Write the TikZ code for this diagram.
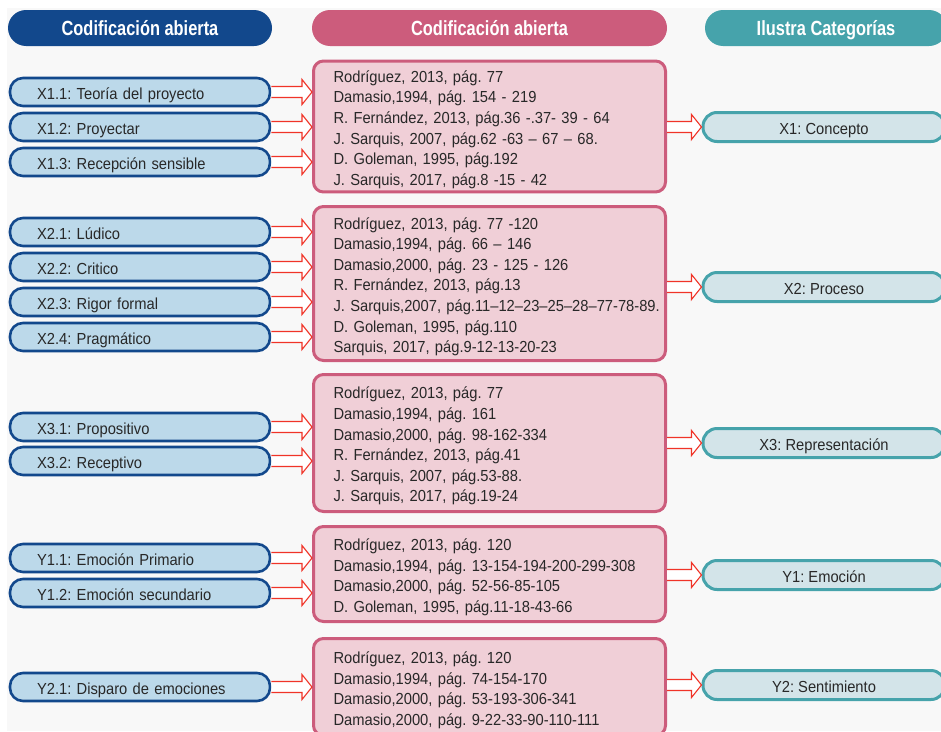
\documentclass[tikz,border=0pt]{standalone}
\usepackage{fontspec}
\setmainfont{Liberation Sans}[FakeStretch=0.92]
\newfontfamily\headfont{Liberation Sans}[FakeStretch=0.8]
\usepackage{xcolor}
\definecolor{ColBg}{RGB}{248,248,248}
\definecolor{ColBlue}{RGB}{18,72,140}
\definecolor{ColBlueFill}{RGB}{188,217,234}
\definecolor{ColPink}{RGB}{204,92,124}
\definecolor{ColPinkFill}{RGB}{240,207,215}
\definecolor{ColTeal}{RGB}{70,163,171}
\definecolor{ColTealFill}{RGB}{211,228,233}
\definecolor{ColRed}{RGB}{240,52,40}
\definecolor{ColText}{RGB}{40,40,40}
\usepackage{tikz}
\usetikzlibrary{calc}
\tikzstyle{Head}=[rounded corners=18pt,minimum height=36pt,inner sep=0pt,
text height=14pt,text depth=0pt,text=white,
font=\headfont\fontsize{20.5}{22}\selectfont\bfseries]
\tikzstyle{Code}=[draw=ColBlue,fill=ColBlueFill,line width=2.6pt,
rounded corners=13pt,minimum height=28pt,text width=206pt,inner xsep=27pt,
inner ysep=0pt,text height=14pt,text depth=0pt,align=left,text=ColText,
font=\fontsize{16}{18}\selectfont]
\tikzstyle{Ref}=[draw=ColPink,fill=ColPinkFill,line width=3pt,
rounded corners=10pt,text width=352pt,inner xsep=0pt,align=left,
text=ColText,font=\fontsize{16}{20.6}\selectfont]
\tikzstyle{Cat}=[draw=ColTeal,fill=ColTealFill,line width=3pt,
rounded corners=14pt,minimum width=242pt,minimum height=29pt,inner sep=0pt,
text height=14pt,text depth=0pt,text=ColText,font=\fontsize{16}{18}\selectfont]
\tikzstyle{Arrow}=[draw=ColRed,fill=white,line width=1.1pt,
to path={let \p1=(\tikztostart),\p2=(\tikztotarget) in
(\x1,\y1+5.5pt)--(\x2-10pt,\y1+5.5pt)--(\x2-10pt,\y1+12.5pt)--(\x2,\y1)
--(\x2-10pt,\y1-12.5pt)--(\x2-10pt,\y1-5.5pt)--(\x1,\y1-5.5pt)}]
\newcommand{\RefIndent}{\leftskip=20pt\rule{0pt}{18pt}}
\frenchspacing

\begin{document}
\begin{tikzpicture}[x=1pt,y=-1pt]
        \clip(0,0)rectangle(941,731);
        \fill[ColBg](7,8)rectangle(941,731);
        % headers
        \node[Head,fill=ColBlue,minimum width=264pt](H1)at(140.00,28.00){Codificación abierta};
        \node[Head,fill=ColPink,minimum width=355pt](H2)at(489.50,28.00){Codificación abierta};
        \node[Head,fill=ColTeal,minimum width=242pt](H3)at(826.00,28.00){Ilustra Categorías};
        % open codes
        \node[Code](X11)at(140.00,92.00){X1.1: Teoría del proyecto};
        \node[Code](X12)at(140.00,127.00){X1.2: Proyectar};
        \node[Code](X13)at(140.00,162.00){X1.3: Recepción sensible};
        \node[Code](X21)at(140.00,232.00){X2.1: Lúdico};
        \node[Code](X22)at(140.00,267.00){X2.2: Critico};
        \node[Code](X23)at(140.00,302.00){X2.3: Rigor formal};
        \node[Code](X24)at(140.00,337.00){X2.4: Pragmático};
        \node[Code](X31)at(140.00,427.00){X3.1: Propositivo};
        \node[Code](X32)at(140.00,461.00){X3.2: Receptivo};
        \node[Code](Y11)at(140.00,558.00){Y1.1: Emoción Primario};
        \node[Code](Y12)at(140.00,593.00){Y1.2: Emoción secundario};
        \node[Code](Y21)at(140.00,687.00){Y2.1: Disparo de emociones};
        % references
        \node[Ref,minimum height=130pt](M1)at(489.50,126.50){\RefIndent
        Rodríguez, 2013, pág. 77\\
        Damasio,1994, pág. 154 - 219\\
        R. Fernández, 2013, pág.36 -.37- 39 - 64\\
        J. Sarquis, 2007, pág.62 -63 – 67 – 68.\\
        D. Goleman, 1995, pág.192\\
        J. Sarquis, 2017, pág.8 -15 - 42\par};
        \node[Ref,minimum height=154pt](M2)at(489.50,283.50){\RefIndent
        Rodríguez, 2013, pág. 77 -120\\
        Damasio,1994, pág. 66 – 146\\
        Damasio,2000, pág. 23 - 125 - 126\\
        R. Fernández, 2013, pág.13\\
        J. Sarquis,2007, pág.11–12–23–25–28–77-78-89.\\
        D. Goleman, 1995, pág.110\\
        Sarquis, 2017, pág.9-12-13-20-23\par};
        \node[Ref,minimum height=137pt](M3)at(489.50,443.00){\RefIndent
        Rodríguez, 2013, pág. 77\\
        Damasio,1994, pág. 161\\
        Damasio,2000, pág. 98-162-334\\
        R. Fernández, 2013, pág.41\\
        J. Sarquis, 2007, pág.53-88.\\
        J. Sarquis, 2017, pág.19-24\par};
        \node[Ref,minimum height=95pt](M4)at(489.50,574.00){\RefIndent
        Rodríguez, 2013, pág. 120\\
        Damasio,1994, pág. 13-154-194-200-299-308\\
        Damasio,2000, pág. 52-56-85-105\\
        D. Goleman, 1995, pág.11-18-43-66\par};
        \node[Ref,minimum height=97pt](M5)at(489.50,687.00){\RefIndent
        Rodríguez, 2013, pág. 120\\
        Damasio,1994, pág. 74-154-170\\
        Damasio,2000, pág. 53-193-306-341\\
        Damasio,2000, pág. 9-22-33-90-110-111\par};
        % categories
        \node[Cat](C1)at(824.00,127.00){X1: Concepto};
        \node[Cat](C2)at(824.00,287.00){X2: Proceso};
        \node[Cat](C3)at(824.00,443.00){X3: Representación};
        \node[Cat](C4)at(824.00,575.00){Y1: Emoción};
        \node[Cat](C5)at(824.00,685.00){Y2: Sentimiento};
        % arrows
        \draw[Arrow](X11.east)to(X11.east-|M1.west);
        \draw[Arrow](X12.east)to(X12.east-|M1.west);
        \draw[Arrow](X13.east)to(X13.east-|M1.west);
        \draw[Arrow](X21.east)to(X21.east-|M2.west);
        \draw[Arrow](X22.east)to(X22.east-|M2.west);
        \draw[Arrow](X23.east)to(X23.east-|M2.west);
        \draw[Arrow](X24.east)to(X24.east-|M2.west);
        \draw[Arrow](X31.east)to(X31.east-|M3.west);
        \draw[Arrow](X32.east)to(X32.east-|M3.west);
        \draw[Arrow](Y11.east)to(Y11.east-|M4.west);
        \draw[Arrow](Y12.east)to(Y12.east-|M4.west);
        \draw[Arrow](Y21.east)to(Y21.east-|M5.west);
        \draw[Arrow](C1.west-|M1.east)to(C1.west);
        \draw[Arrow](C2.west-|M2.east)to(C2.west);
        \draw[Arrow](C3.west-|M3.east)to(C3.west);
        \draw[Arrow](C4.west-|M4.east)to(C4.west);
        \draw[Arrow](C5.west-|M5.east)to(C5.west);
\end{tikzpicture}
\end{document}
